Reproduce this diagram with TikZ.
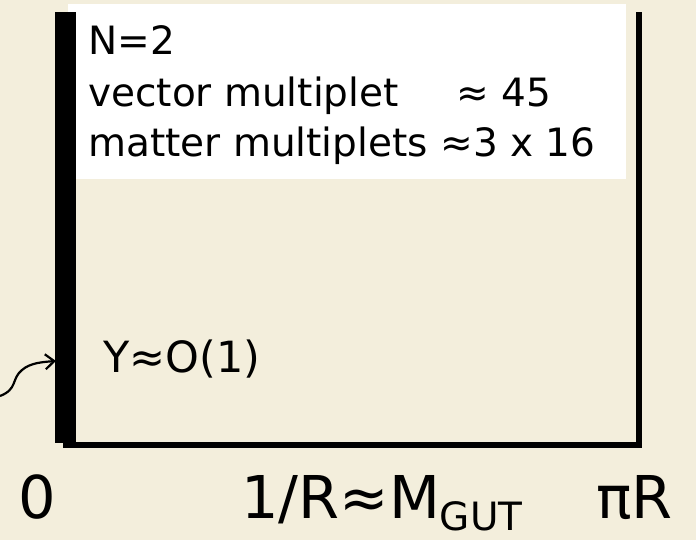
\documentclass[tikz,border=0pt]{standalone}
\usepackage{fontspec}
\setmainfont{DejaVu Sans}
\usetikzlibrary{arrows.meta}
\definecolor{bgbeige}{RGB}{243,238,220}
\begin{document}
\begin{tikzpicture}[x=1pt,y=-1pt,
  lbl/.style={inner sep=0pt,anchor=base west,font=\fontsize{39}{46}\selectfont},
  midlbl/.style={inner sep=0pt,anchor=base west,font=\fontsize{43}{52}\selectfont},
  biglbl/.style={inner sep=0pt,anchor=base west,font=\fontsize{59}{68}\selectfont},
  wall/.style={fill=black,draw=none}]
\fill[bgbeige] (0,0) rectangle (696,540);
\useasboundingbox (0,0) rectangle (696,540);
% white box
\node[fill=white,inner sep=0pt,minimum width=558pt,minimum height=175pt,anchor=north west] (box) at (68,4) {};
% walls
\node[wall,inner sep=0pt,minimum width=21pt,minimum height=431pt,anchor=north west] (bar) at (55,12) {};
\node[wall,inner sep=0pt,minimum width=578pt,minimum height=6pt,anchor=north west] (floor) at (63,442) {};
\node[wall,inner sep=0pt,minimum width=6pt,minimum height=436pt,anchor=north west] (rwall) at (636,12) {};
% texts
\node[lbl] (t1) at (88,55) {N=2};
\node[lbl] (t2) at (88,107) {\makebox[368pt][l]{vector multiplet}≈ 45};
\node[lbl] (t3) at (88,157) {matter multiplets ≈3 x 16};
\node[midlbl] (y) at (103,372) {Y≈O(1)};
\node[biglbl] (zero) at (18,518) {0};
\node[biglbl] (mgut) at (241,518) {1/R≈M\raisebox{-12pt}{\fontsize{39}{40}\selectfont GUT}};
\node[biglbl] (pir) at (596,518) {πR};
% arrow
\coordinate (src) at (0,396);
\coordinate (tip) at (56,361);
\draw[line width=2.2pt,-{Straight Barb[length=9pt,width=15pt]}] (src) .. controls (18,389) and (11,379) .. (22,370) .. controls (30,363) and (42,362) .. (tip);
\end{tikzpicture}
\end{document}
